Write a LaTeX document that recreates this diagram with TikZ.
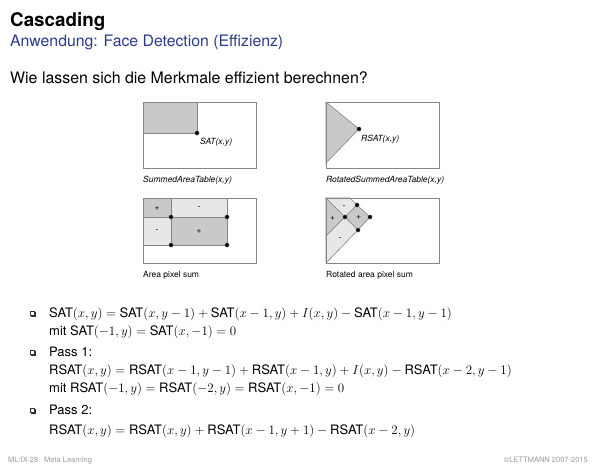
\RequirePackage{fix-cm}
\documentclass[tikz,border=0pt]{standalone}
\usepackage{amsmath}
\usepackage[no-math]{fontspec}
\setmainfont{TeX Gyre Heros}
\usepackage{tikz}
\usetikzlibrary{positioning}
\definecolor{heading}{HTML}{2B3A8A}
\definecolor{edge}{HTML}{858585}
\definecolor{sumdark}{HTML}{C9C9C9}
\definecolor{sumlight}{HTML}{E7E7E7}
\definecolor{foot}{HTML}{9A9A9A}
\newcommand{\fsz}[1]{\fontsize{#1}{#1}\selectfont}
\tikzset{
  txt/.style={anchor=base west, inner sep=0pt},
  body/.style={txt, font=\fsz{13}},
  lbl/.style={txt, font=\fsz{8.5}},
  ilbl/.style={txt, font=\fsz{8.5}\itshape},
  sgn/.style={inner sep=0pt, font=\fsz{8.5}},
  frame/.style={draw=edge, line width=0.7pt},
  dark/.style={fill=sumdark, draw=edge, line width=0.6pt},
  light/.style={fill=sumlight, draw=edge, line width=0.6pt},
  pt/.style={circle, fill=black, draw=black!60, line width=0.4pt, inner sep=0pt, minimum size=4.2pt},
  footer/.style={txt, font=\fsz{7.5}, text=foot},
}

\begin{document}
\begin{tikzpicture}[x=1pt, y=-1pt]
  \useasboundingbox (0,0) rectangle (600,467);
  % heading
  \node[txt, font=\fsz{18.8}\bfseries] (title) at (10,26) {Cascading};
  \node[txt, font=\fsz{15.8}, text=heading] (subtitle) at (10,46.5) {Anwendung: Face Detection (Effizienz)};
  \node[txt, font=\fsz{15.9}] (question) at (10,83) {Wie lassen sich die Merkmale effizient berechnen?};

  % summed area table
  \filldraw[dark] (143,102) rectangle (197,133);
  \draw[frame] (143,102) rectangle (256,168);
  \node[pt] (sat) at (197,133) {};
  \node[ilbl] (satlbl) at (200,144) {SAT(x,y)};
  \node[ilbl] (satcap) at (143,182) {SummedAreaTable(x,y)};

  % rotated summed area table
  \filldraw[dark] (326,102) -- (359,129) -- (326,163) -- cycle;
  \draw[frame] (326,102) rectangle (439,168);
  \node[pt] (rsat) at (359,129) {};
  \node[ilbl] (rsatlbl) at (361,141.5) {RSAT(x,y)};
  \node[ilbl] (rsatcap) at (326,182) {RotatedSummedAreaTable(x,y)};

  % area pixel sum
  \filldraw[dark] (143,198) rectangle (171,217);
  \filldraw[light] (171,198) rectangle (227,217);
  \filldraw[light] (143,217) rectangle (171,245);
  \filldraw[dark] (171,217) rectangle (227,245);
  \draw[frame] (143,198) rectangle (256,263);
  \foreach \px/\py [count=\i] in {171/217, 227/217, 171/245, 227/245}
    \node[pt] (a\i) at (\px,\py) {};
  \node[sgn] (ap1) at (157,208) {+};
  \node[sgn] (am1) at (199,208) {-};
  \node[sgn] (am2) at (157,231) {-};
  \node[sgn] (ap2) at (199,231) {+};
  \node[lbl] (areacap) at (143,277.5) {Area pixel sum};

  % rotated area pixel sum
  \filldraw[dark] (326,198) -- (345,217) -- (326,236) -- cycle;
  \filldraw[light] (326,198) -- (350,198) -- (357,205) -- (345,217) -- cycle;
  \filldraw[light] (326,236) -- (345,217) -- (358,230) -- (326,263) -- cycle;
  \filldraw[dark] (357,205) -- (370,217) -- (358,230) -- (345,217) -- cycle;
  \draw[frame] (326,198) rectangle (439,263);
  \foreach \px/\py [count=\i] in {357/205, 345/217, 370/217, 358/230}
    \node[pt] (r\i) at (\px,\py) {};
  \node[sgn] (rm1) at (344,207.5) {-};
  \node[sgn] (rp1) at (332.5,218) {+};
  \node[sgn] (rp2) at (358.5,217.5) {+};
  \node[sgn] (rm2) at (340,239) {-};
  \node[lbl] (rareacap) at (326,277.5) {Rotated area pixel sum};

  % bullets
  \foreach \yb in {311,350,408} {
    \fill[black!80] (31,\yb+1) rectangle (35.5,\yb+5.5);
    \filldraw[fill=white, draw=black!80, line width=0.5pt] (30,\yb) rectangle (34.5,\yb+4.5);
  }

  % formulas
  \node[body] (sat1) at (49,317) {$\text{SAT}(x,y)=\text{SAT}(x,y-1)+\text{SAT}(x-1,y)+I(x,y)-\text{SAT}(x-1,y-1)$};
  \node[body] (sat2) at (49,335) {mit $\text{SAT}(-1,y)=\text{SAT}(x,-1)=0$};
  \node[body] (pass1) at (49,356) {Pass 1:};
  \node[body] (rsat1) at (49,374) {$\text{RSAT}(x,y)=\text{RSAT}(x-1,y-1)+\text{RSAT}(x-1,y)+I(x,y)-\text{RSAT}(x-2,y-1)$};
  \node[body] (rsat2) at (49,392) {mit $\text{RSAT}(-1,y)=\text{RSAT}(-2,y)=\text{RSAT}(x,-1)=0$};
  \node[body] (pass2) at (49,414) {Pass 2:};
  \node[body] (rsat3) at (49,434) {$\text{RSAT}(x,y)=\text{RSAT}(x,y)+\text{RSAT}(x-1,y+1)-\text{RSAT}(x-2,y)$};

  % footer
  \node[footer] (slide) at (8,462) {ML:IX-28};
  \node[footer] (topic) at (44,462) {Meta Learning};
  \node[footer, anchor=base east] (copy) at (588,462) {©LETTMANN 2007-2015};
\end{tikzpicture}
\end{document}
